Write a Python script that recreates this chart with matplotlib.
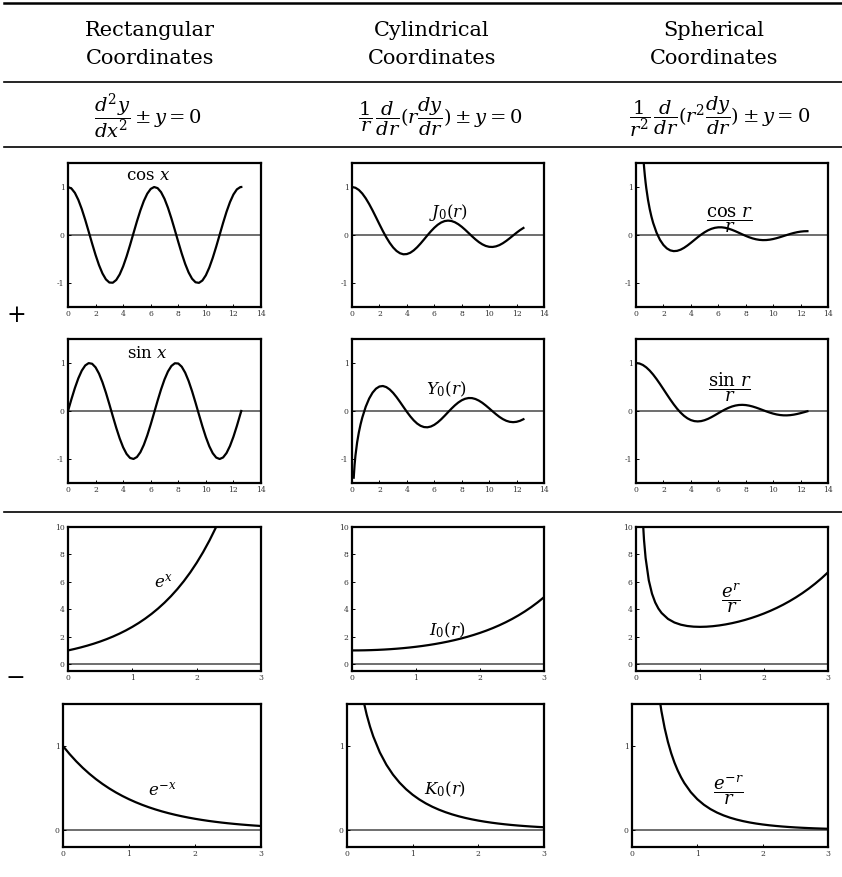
import matplotlib.pyplot as plt
from matplotlib.lines import Line2D

plt.rcParams['font.family'] = 'DejaVu Serif'
plt.rcParams['mathtext.fontset'] = 'dejavuserif'
plt.rcParams['axes.unicode_minus'] = False

# --- values ---
x_wave = [0.0, 0.25, 0.5, 0.75, 1.0, 1.25, 1.5, 1.75, 2.0, 2.25, 2.5, 2.75,
          3.0, 3.25, 3.5, 3.75, 4.0, 4.25, 4.5, 4.75, 5.0, 5.25, 5.5, 5.75,
          6.0, 6.25, 6.5, 6.75, 7.0, 7.25, 7.5, 7.75, 8.0, 8.25, 8.5, 8.75,
          9.0, 9.25, 9.5, 9.75, 10.0, 10.25, 10.5, 10.75, 11.0, 11.25, 11.5,
          11.75, 12.0, 12.25, 12.5]
x_wave_end = x_wave + [12.57]

cos_x = [1.0, 0.9689, 0.8776, 0.7317, 0.5403, 0.3153, 0.0707, -0.1782, -0.4161,
         -0.6282, -0.8011, -0.9243, -0.9900, -0.9941, -0.9365, -0.8206, -0.6536,
         -0.4461, -0.2108, 0.0376, 0.2837, 0.5117, 0.7087, 0.8612, 0.9602, 0.9999,
         0.9766, 0.8930, 0.7539, 0.5683, 0.3466, 0.1037, -0.1455, -0.3858, -0.6020,
         -0.7807, -0.9111, -0.9848, -0.9972, -0.9476, -0.8391, -0.6783, -0.4755,
         -0.2432, 0.0044, 0.2518, 0.4842, 0.6851, 0.8439, 0.9504, 0.9978, 1.0]
sin_x = [0.0, 0.2474, 0.4794, 0.6816, 0.8415, 0.9490, 0.9975, 0.9840, 0.9093,
         0.7781, 0.5985, 0.3817, 0.1411, -0.1082, -0.3508, -0.5716, -0.7568,
         -0.8950, -0.9775, -0.9993, -0.9589, -0.8589, -0.7055, -0.5083, -0.2794,
         -0.0332, 0.2151, 0.4500, 0.6570, 0.8228, 0.9380, 0.9946, 0.9894, 0.9226,
         0.7985, 0.6248, 0.4121, 0.1739, -0.0752, -0.3195, -0.5440, -0.7349,
         -0.8797, -0.9701, -1.0, -0.9679, -0.8754, -0.7286, -0.5366, -0.3111,
         -0.0663, 0.0]

j0_r = [1.0, 0.9844, 0.9385, 0.8642, 0.7652, 0.6459, 0.5118, 0.3690, 0.2239,
        0.0828, -0.0484, -0.1639, -0.2601, -0.3329, -0.3801, -0.4020, -0.3971,
        -0.3696, -0.3205, -0.2551, -0.1776, -0.0930, -0.0068, 0.0759, 0.1506,
        0.2131, 0.2601, 0.2897, 0.3001, 0.2920, 0.2663, 0.2250, 0.1717, 0.1095,
        0.0419, -0.0259, -0.0903, -0.1474, -0.1939, -0.2276, -0.2459, -0.2491,
        -0.2366, -0.2103, -0.1712, -0.1227, -0.0677, -0.0097, 0.0477, 0.1010,
        0.1469]

x_y0 = [0.125, 0.1875, 0.25, 0.375, 0.5, 0.625, 0.75] + x_wave[4:]
y0_r = [-1.3896, -1.1238, -0.9316, -0.6514, -0.4445, -0.2774, -0.1372,
        0.0883, 0.2585, 0.3824, 0.4652, 0.5104, 0.5207, 0.4981, 0.4487, 0.3769,
        0.2885, 0.1890, 0.0853, -0.0169, -0.1120, -0.1947, -0.2616, -0.3085,
        -0.3346, -0.3395, -0.3233, -0.2882, -0.2366, -0.1732, -0.1013, -0.0259,
        0.0485, 0.1173, 0.1767, 0.2235, 0.2549, 0.2702, 0.2685, 0.2499, 0.2166,
        0.1712, 0.1162, 0.0557, -0.0069, -0.0670, -0.1227, -0.1688, -0.2038,
        -0.2253, -0.2326, -0.2252, -0.2044, -0.1712]

x_cosr = [0.5, 0.55, 0.6, 0.65, 0.7, 0.75, 0.875, 1.0, 1.125, 1.25] + x_wave[6:]
cosr_r = [1.7552, 1.5517, 1.3755, 1.2248, 1.0926, 0.9756, 0.7326, 0.5403, 0.3833,
          0.2522, 0.0472, -0.1018, -0.2081, -0.2792, -0.3204, -0.3361, -0.3300,
          -0.3059, -0.2676, -0.2188, -0.1634, -0.1050, -0.0468, 0.0079, 0.0567,
          0.0975, 0.1289, 0.1498, 0.1600, 0.1600, 0.1502, 0.1323, 0.1077, 0.0784,
          0.0462, 0.0134, -0.0182, -0.0468, -0.0708, -0.0892, -0.1012, -0.1065,
          -0.1050, -0.0972, -0.0839, -0.0662, -0.0453, -0.0226, 0.0004, 0.0224,
          0.0421, 0.0583, 0.0703, 0.0776, 0.0798]

sinr_r = [1.0, 0.9896, 0.9589, 0.9088, 0.8415, 0.7592, 0.6650, 0.5623, 0.4546,
          0.3458, 0.2394, 0.1388, 0.0470, -0.0333, -0.1002, -0.1524, -0.1892,
          -0.2106, -0.2172, -0.2104, -0.1918, -0.1636, -0.1283, -0.0884, -0.0466,
          -0.0053, 0.0331, 0.0667, 0.0939, 0.1135, 0.1251, 0.1283, 0.1237, 0.1118,
          0.0939, 0.0714, 0.0458, 0.0188, -0.0079, -0.0328, -0.0544, -0.0717,
          -0.0838, -0.0902, -0.0909, -0.0860, -0.0761, -0.0620, -0.0447, -0.0254,
          -0.0053]

x_tenth = [0.0, 0.1, 0.2, 0.3, 0.4, 0.5, 0.6, 0.7, 0.8, 0.9, 1.0, 1.1, 1.2, 1.3,
           1.4, 1.5, 1.6, 1.7, 1.8, 1.9, 2.0, 2.1, 2.2, 2.3, 2.4, 2.5, 2.6, 2.7,
           2.8, 2.9, 3.0]

exp_x = [1.0, 1.1052, 1.2214, 1.3499, 1.4918, 1.6487, 1.8221, 2.0138, 2.2255,
         2.4596, 2.7183, 3.0042, 3.3201, 3.6693, 4.0552, 4.4817, 4.9530, 5.4739,
         6.0496, 6.6859, 7.3891, 8.1662, 9.0250, 9.9742, 11.0232]

i0_r = [1.0, 1.0025, 1.0100, 1.0226, 1.0404, 1.0635, 1.0920, 1.1263, 1.1665,
        1.2130, 1.2661, 1.3262, 1.3937, 1.4693, 1.5534, 1.6467, 1.7500, 1.8640,
        1.9896, 2.1277, 2.2796, 2.4463, 2.6291, 2.8296, 3.0493, 3.2898, 3.5533,
        3.8417, 4.1573, 4.5027, 4.8808]

x_er = [0.1, 0.125, 0.15, 0.2, 0.25, 0.3, 0.35] + x_tenth[4:]
er_r = [11.0517, 9.0650, 7.7455, 6.1070, 5.1361, 4.4995, 4.0545, 3.7296, 3.2974,
        3.0369, 2.8768, 2.7819, 2.7329, 2.7183, 2.7311, 2.7668, 2.8226, 2.8966,
        2.9878, 3.0956, 3.2199, 3.3609, 3.5189, 3.6945, 3.8887, 4.1023, 4.3366,
        4.5930, 4.8730, 5.1783, 5.5108, 5.8726, 6.2661, 6.6952]

exp_neg_x = [1.0, 0.9048, 0.8187, 0.7408, 0.6703, 0.6065, 0.5488, 0.4966, 0.4493,
             0.4066, 0.3679, 0.3329, 0.3012, 0.2725, 0.2466, 0.2231, 0.2019,
             0.1827, 0.1653, 0.1496, 0.1353, 0.1225, 0.1108, 0.1003, 0.0907,
             0.0821, 0.0743, 0.0672, 0.0608, 0.0550, 0.0498]

x_k0 = [0.2, 0.25, 0.3, 0.35] + x_tenth[4:]
k0_r = [1.7527, 1.5415, 1.3725, 1.2327, 1.1145, 0.9244, 0.7775, 0.6605, 0.5653,
        0.4867, 0.4210, 0.3656, 0.3185, 0.2782, 0.2437, 0.2138, 0.1880, 0.1655,
        0.1459, 0.1288, 0.1139, 0.1008, 0.0893, 0.0791, 0.0702, 0.0623, 0.0554,
        0.0493, 0.0438, 0.0390, 0.0347]

x_emr = [0.4, 0.45, 0.5, 0.55, 0.6, 0.65, 0.7, 0.75] + x_tenth[8:]
emr_r = [1.6758, 1.4169, 1.2131, 1.0489, 0.9147, 0.8031, 0.7094, 0.6298, 0.5616,
         0.4518, 0.3679, 0.3026, 0.2510, 0.2096, 0.1761, 0.1487, 0.1262, 0.1075,
         0.0918, 0.0787, 0.0677, 0.0583, 0.0504, 0.0436, 0.0378, 0.0328, 0.0286,
         0.0249, 0.0217, 0.0190, 0.0166]

column_titles = ['Rectangular\nCoordinates', 'Cylindrical\nCoordinates',
                 'Spherical\nCoordinates']
equations = [r'$\dfrac{d^2y}{dx^2} \pm y = 0$',
             r'$\dfrac{1}{r}\,\dfrac{d}{dr}(r\dfrac{dy}{dr}) \pm y = 0$',
             r'$\dfrac{1}{r^2}\,\dfrac{d}{dr}(r^2\dfrac{dy}{dr}) \pm y = 0$']

W, H = 842, 877
fig = plt.figure(figsize=(W / 100, H / 100), dpi=100)


def box(left, top, right, bottom):
    # pixel box -> figure axes
    return fig.add_axes([left / W, 1 - bottom / H, (right - left) / W, (bottom - top) / H])


def rule(y, lw=1.2):
    fig.add_artist(Line2D([0.005, 1], [1 - y / H, 1 - y / H], transform=fig.transFigure,
                          color='black', lw=lw))


def panel(ax, xs, ys, label, pos, xlim, ylim, xticks, yticks):
    ax.axhline(0, color='#555555', lw=1.2, zorder=1)
    ax.plot(xs, ys, color='black', lw=1.6, zorder=2)
    ax.set_xlim(xlim)
    ax.set_ylim(ylim)
    ax.set_xticks(xticks)
    ax.set_yticks(yticks)
    ax.tick_params(direction='in', length=2.5, width=0.7, labelsize=5.5, pad=2.5,
                   labelcolor='#333333', top=False, right=False)
    for s in ax.spines.values():
        s.set_linewidth(1.6)
    size = 13 if 'dfrac' in label else 12
    ax.text(pos[0], pos[1], label, ha='center', va='center', fontsize=size)


# header
rule(3, lw=1.8)
rule(82)
rule(147)
rule(512)
for cx, title in zip([150, 432, 714], column_titles):
    a, b = title.split('\n')
    fig.text(cx / W, 1 - 31 / H, a, ha='center', va='center', fontsize=15)
    fig.text(cx / W, 1 - 59 / H, b, ha='center', va='center', fontsize=15)
for cx, eq in zip([148, 440, 720], equations):
    fig.text(cx / W, 1 - 117 / H, eq, ha='center', va='center', fontsize=14)

fig.text(16 / W, 1 - 316 / H, '+', ha='center', va='center', fontsize=17)
fig.text(15 / W, 1 - 679 / H, '\u2212', ha='center', va='center', fontsize=17)

# frames (pixels) for each row / column
rows = [(163, 307), (339, 483), (527, 671), (704, 847)]
cols = [(68, 261), (352, 544), (636, 828)]
cols_last = [(63, 261), (347, 544), (632, 828)]

wave_x = [0, 2, 4, 6, 8, 10, 12, 14]
wave_y = [-1, 0, 1]
short_x = [0, 1, 2, 3]

top_row = [(x_wave_end, cos_x, r'$\cos\,x$', (5.8, 1.25)),
           (x_wave, j0_r, r'$J_0(r)$', (7.0, 0.46)),
           (x_cosr, cosr_r, r'$\dfrac{\cos\,r}{r}$', (6.85, 0.3))]
second_row = [(x_wave_end, sin_x, r'$\sin\,x$', (5.8, 1.19)),
              (x_y0, y0_r, r'$Y_0(r)$', (6.9, 0.46)),
              (x_wave, sinr_r, r'$\dfrac{\sin\,r}{r}$', (6.85, 0.5))]
third_row = [(x_tenth[:25], exp_x, r'$e^x$', (1.48, 6.0)),
             (x_tenth, i0_r, r'$I_0(r)$', (1.48, 2.5)),
             (x_er, er_r, r'$\dfrac{e^r}{r}$', (1.48, 4.8))]
fourth_row = [(x_tenth, exp_neg_x, r'$e^{-x}$', (1.5, 0.48)),
              (x_k0, k0_r, r'$K_0(r)$', (1.5, 0.49)),
              (x_emr, emr_r, r'$\dfrac{e^{-r}}{r}$', (1.48, 0.48))]

for j, (xs, ys, lab, pos) in enumerate(top_row):
    ax = box(cols[j][0], rows[0][0], cols[j][1], rows[0][1])
    panel(ax, xs, ys, lab, pos, (0, 14), (-1.5, 1.5), wave_x, wave_y)
for j, (xs, ys, lab, pos) in enumerate(second_row):
    ax = box(cols[j][0], rows[1][0], cols[j][1], rows[1][1])
    panel(ax, xs, ys, lab, pos, (0, 14), (-1.5, 1.5), wave_x, wave_y)
for j, (xs, ys, lab, pos) in enumerate(third_row):
    ax = box(cols[j][0], rows[2][0], cols[j][1], rows[2][1])
    panel(ax, xs, ys, lab, pos, (0, 3), (-0.5, 10), short_x, [0, 2, 4, 6, 8, 10])
for j, (xs, ys, lab, pos) in enumerate(fourth_row):
    ax = box(cols_last[j][0], rows[3][0], cols_last[j][1], rows[3][1])
    panel(ax, xs, ys, lab, pos, (0, 3), (-0.2, 1.5), short_x, [0, 1])

fig.savefig('out.png', dpi=100)
